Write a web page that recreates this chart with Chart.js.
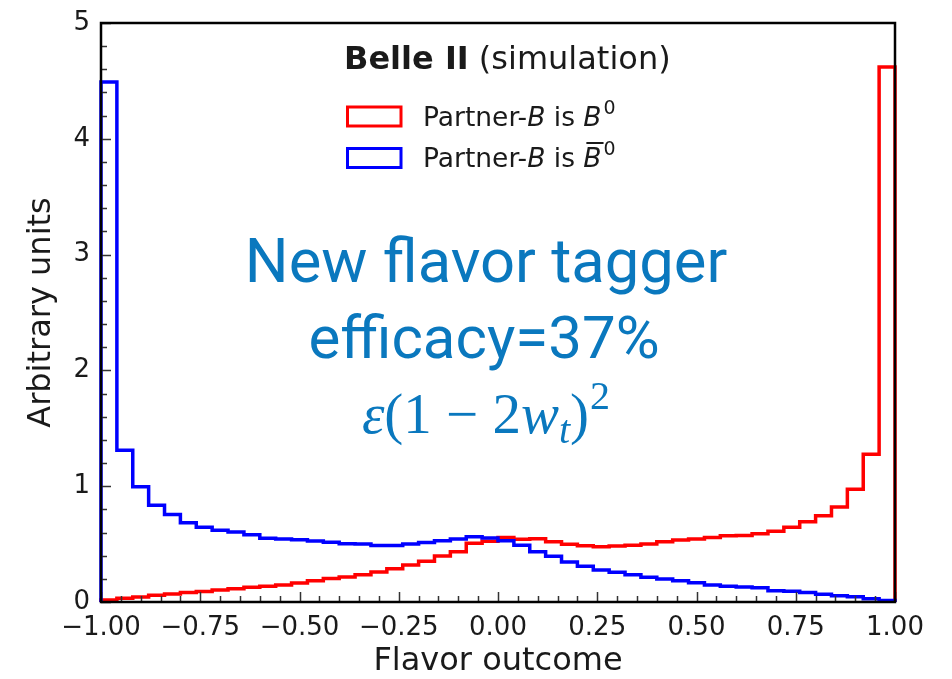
<!DOCTYPE html>
<html>
<head>
<meta charset="utf-8">
<title>Flavor outcome</title>
<script src="https://cdn.jsdelivr.net/npm/chart.js@4.4.1/dist/chart.umd.min.js"></script>
<style>
  html, body { margin: 0; padding: 0; background: #ffffff; }
  #wrap { width: 952px; height: 679px; }
  canvas { display: block; }
</style>
</head>
<body>
<div id="wrap"><canvas id="c" width="952" height="679"></canvas></div>
<script>
// Histogram binning of the flavor outcome: 50 equal bins over [-1, 1]
const xMin = -1.0;
const xMax = 1.0;
const binWidth = 0.04;

// Bin contents (arbitrary units), left to right
const partnerB0 = [
  0.017, 0.032, 0.043, 0.058, 0.069, 0.081, 0.090, 0.104, 0.115, 0.127,
  0.135, 0.147, 0.164, 0.184, 0.204, 0.216, 0.236, 0.259, 0.288, 0.320,
  0.351, 0.397, 0.435, 0.507, 0.524, 0.556, 0.541, 0.547, 0.521, 0.498,
  0.485, 0.478, 0.484, 0.490, 0.500, 0.521, 0.535, 0.544, 0.558, 0.573,
  0.575, 0.590, 0.610, 0.645, 0.694, 0.745, 0.820, 0.973, 1.275, 4.620
];
const partnerB0bar = [
  4.490, 1.310, 0.995, 0.835, 0.755, 0.685, 0.645, 0.620, 0.605, 0.580,
  0.550, 0.544, 0.538, 0.527, 0.515, 0.503, 0.500, 0.487, 0.487, 0.500,
  0.514, 0.530, 0.545, 0.564, 0.552, 0.528, 0.490, 0.433, 0.396, 0.345,
  0.308, 0.276, 0.256, 0.236, 0.213, 0.199, 0.184, 0.167, 0.147, 0.135,
  0.130, 0.122, 0.098, 0.092, 0.083, 0.066, 0.055, 0.046, 0.029, 0.014
];

// Axis ticks
const xMajorTicks = [-1.0, -0.75, -0.5, -0.25, 0.0, 0.25, 0.5, 0.75, 1.0];
const yMajorTicks = [0, 1, 2, 3, 4, 5];
const xMinorStep = 0.05;
const yMinorStep = 0.2;

const RED = '#ff0000';
const BLUE = '#0000ff';
const INK = '#1a1a1a';
const NOTE = '#0a78be';
const SANS = '"DejaVu Sans", "Liberation Sans", sans-serif';

// Outline of a step histogram: rise at the first edge, one level per bin, drop at the last edge
function stepOutline(values) {
  const pts = [{ x: xMin, y: 0 }];
  values.forEach((v, i) => pts.push({ x: xMin + i * binWidth, y: v }));
  pts.push({ x: xMax, y: 0 });
  return pts;
}

function fmtTick(v) {
  const s = Math.abs(v).toFixed(2);
  return v < -1e-9 ? '\u2212' + s : s;
}

// Frame and inward-pointing ticks
const framePlugin = {
  id: 'frameTicks',
  afterDatasetsDraw(chart) {
    const { ctx, chartArea: a, scales: { x, y } } = chart;
    ctx.save();
    ctx.strokeStyle = '#333333';
    ctx.lineWidth = 1.5;
    ctx.beginPath();
    for (let k = 0; k <= Math.round((xMax - xMin) / xMinorStep); k++) {
      const v = xMin + k * xMinorStep;
      const major = xMajorTicks.some(t => Math.abs(t - v) < 1e-6);
      const px = Math.round(x.getPixelForValue(v)) + 0.5;
      ctx.moveTo(px, a.bottom);
      ctx.lineTo(px, a.bottom - (major ? 10 : 6));
    }
    for (let k = 0; k <= Math.round(5 / yMinorStep); k++) {
      const v = k * yMinorStep;
      const major = yMajorTicks.some(t => Math.abs(t - v) < 1e-6);
      const py = Math.round(y.getPixelForValue(v)) + 0.5;
      ctx.moveTo(a.left, py);
      ctx.lineTo(a.left + (major ? 10 : 6), py);
    }
    ctx.stroke();
    ctx.strokeStyle = '#000000';
    ctx.lineWidth = 2.5;
    ctx.strokeRect(a.left, a.top, a.right - a.left, a.bottom - a.top);
    ctx.restore();
  }
};

// Draws a run of differently styled text pieces from a starting x on one baseline
function drawRuns(ctx, runs, x0, baseline) {
  let x = x0;
  const placed = [];
  runs.forEach(r => {
    ctx.font = r.font;
    ctx.fillText(r.text, x + (r.dx || 0), baseline - (r.rise || 0));
    const w = ctx.measureText(r.text).width;
    placed.push({ x: x + (r.dx || 0), w });
    x += w + (r.dx || 0) + (r.after || 0);
  });
  return placed;
}
function runsWidth(ctx, runs) {
  let w = 0;
  runs.forEach(r => { ctx.font = r.font; w += ctx.measureText(r.text).width + (r.dx || 0) + (r.after || 0); });
  return w;
}

const textPlugin = {
  id: 'annotations',
  afterDraw(chart) {
    const ctx = chart.ctx;
    ctx.save();
    ctx.textAlign = 'left';
    ctx.textBaseline = 'alphabetic';

    // Heading
    ctx.fillStyle = INK;
    drawRuns(ctx, [
      { text: 'Belle II', font: `bold 32px ${SANS}` },
      { text: ' (simulation)', font: `32px ${SANS}` }
    ], 344, 69);

    // Legend
    const entries = [
      { color: RED, boxY: 107, base: 125.5, bar: false },
      { color: BLUE, boxY: 148.5, base: 167, bar: true }
    ];
    entries.forEach(e => {
      ctx.strokeStyle = e.color;
      ctx.lineWidth = 3;
      ctx.strokeRect(347.5, e.boxY, 53.5, 19);
      ctx.fillStyle = INK;
      const placed = drawRuns(ctx, [
        { text: 'Partner-', font: `26.5px ${SANS}` },
        { text: 'B', font: `oblique 26.5px ${SANS}` },
        { text: ' is ', font: `26.5px ${SANS}` },
        { text: 'B', font: `oblique 26.5px ${SANS}`, after: 2 },
        { text: '0', font: `19px ${SANS}`, rise: 12 }
      ], 423, e.base);
      if (e.bar) {
        const b = placed[3];
        ctx.strokeStyle = INK;
        ctx.lineWidth = 2;
        ctx.beginPath();
        ctx.moveTo(b.x + 3, e.base - 24);
        ctx.lineTo(b.x + b.w + 2, e.base - 24);
        ctx.stroke();
      }
    });

    // Tagger annotation
    ctx.fillStyle = NOTE;
    ctx.textAlign = 'center';
    ctx.font = '61.5px Roboto, "Open Sans", sans-serif';
    ctx.fillText('New flavor tagger', 486, 282);
    ctx.font = '60px Roboto, "Open Sans", sans-serif';
    ctx.fillText('efficacy=37%', 484, 358);

    ctx.textAlign = 'left';
    const serif = '"Liberation Serif", "DejaVu Serif", serif';
    const formula = [
      { text: '\u03b5', font: `italic 57px ${serif}` },
      { text: '(1 \u2212 2', font: `57px ${serif}` },
      { text: 'w', font: `italic 57px ${serif}` },
      { text: 't', font: `italic 40px ${serif}`, rise: -10 },
      { text: ')', font: `57px ${serif}`, after: 1 },
      { text: '2', font: `40px ${serif}`, rise: 24 }
    ];
    const fw = runsWidth(ctx, formula);
    drawRuns(ctx, formula, 486 - fw / 2, 433);
    ctx.restore();
  }
};

const datasetStyle = {
  borderWidth: 3.5,
  stepped: 'before',
  pointRadius: 0,
  pointHoverRadius: 0,
  fill: false,
  clip: false,
  borderJoinStyle: 'miter',
  borderCapStyle: 'butt'
};

new Chart(document.getElementById('c'), {
  type: 'line',
  data: {
    datasets: [
      Object.assign({ label: 'Partner-B is B0', data: stepOutline(partnerB0), borderColor: RED, order: 1 }, datasetStyle),
      Object.assign({ label: 'Partner-B is anti-B0', data: stepOutline(partnerB0bar), borderColor: BLUE, order: 0 }, datasetStyle)
    ]
  },
  options: {
    responsive: false,
    animation: false,
    devicePixelRatio: 1,
    parsing: false,
    events: [],
    layout: { padding: { left: 0, right: 57, top: 23, bottom: 0 } },
    plugins: { legend: { display: false }, tooltip: { enabled: false }, title: { display: false } },
    scales: {
      x: {
        type: 'linear',
        min: xMin,
        max: xMax,
        afterBuildTicks: s => { s.ticks = xMajorTicks.map(v => ({ value: v })); },
        afterFit: s => { s.height = 77; },
        grid: { display: false },
        border: { display: false },
        ticks: {
          callback: v => fmtTick(v),
          font: { family: SANS, size: 26 },
          color: INK,
          padding: 3,
          maxRotation: 0,
          autoSkip: false
        },
        title: {
          display: true,
          text: 'Flavor outcome',
          font: { family: SANS, size: 32 },
          color: INK,
          padding: { top: 0, bottom: -2 }
        }
      },
      y: {
        type: 'linear',
        min: 0,
        max: 5,
        afterBuildTicks: s => { s.ticks = yMajorTicks.map(v => ({ value: v })); },
        afterFit: s => { s.width = 101; },
        grid: { display: false },
        border: { display: false },
        ticks: {
          callback: v => String(v),
          font: { family: SANS, size: 26 },
          color: INK,
          padding: 3
        },
        title: {
          display: true,
          text: 'Arbitrary units',
          font: { family: SANS, size: 32 },
          color: INK,
          padding: { top: 22, bottom: 0 }
        }
      }
    }
  },
  plugins: [framePlugin, textPlugin]
});
</script>
</body>
</html>
